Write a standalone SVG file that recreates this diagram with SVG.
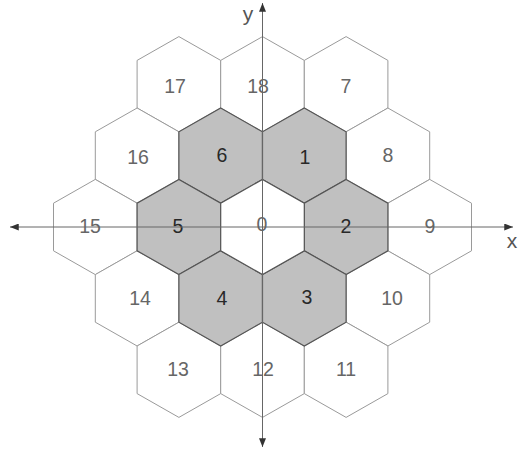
<svg xmlns="http://www.w3.org/2000/svg" width="522" height="451" viewBox="0 0 522 451">
<style>
.outer{fill:#fff;stroke:#9a9a9a;stroke-width:1}
.inner{fill:#c0c0c0;stroke:#555;stroke-width:1.2}
.center{fill:#fff;stroke:#555;stroke-width:1.2}
.lbl{font-family:"Liberation Sans",Arial,sans-serif;font-size:19.5px;text-anchor:middle;fill:#666}
.lbld{font-family:"Liberation Sans",Arial,sans-serif;font-size:19.5px;text-anchor:middle;fill:#282828}
.ax{font-family:"Liberation Sans",Arial,sans-serif;font-size:21px;text-anchor:middle;fill:#555}
.axis{stroke:#666;stroke-width:1;fill:none}
</style>
<defs>
<polygon id="hex" points="0,-47.6 41.8,-23.8 41.8,23.8 0,47.6 -41.8,23.8 -41.8,-23.8"/>
<marker id="arr" viewBox="0 0 10 8" refX="10" refY="4" markerWidth="9" markerHeight="7" markerUnits="userSpaceOnUse" orient="auto">
<path d="M0,0 L10,4 L0,8 Z" fill="#333"/>
</marker>
</defs>
<g id="hex17"><use href="#hex" class="outer" x="178.9" y="84.2"/><text class="lbl" x="175" y="93">17</text></g>
<g id="hex18"><use href="#hex" class="outer" x="262.5" y="84.2"/><text class="lbl" x="258" y="93">18</text></g>
<g id="hex7"><use href="#hex" class="outer" x="346.1" y="84.2"/><text class="lbl" x="346" y="93">7</text></g>
<g id="hex16"><use href="#hex" class="outer" x="137.1" y="155.6"/><text class="lbl" x="138" y="164">16</text></g>
<g id="hex8"><use href="#hex" class="outer" x="387.9" y="155.6"/><text class="lbl" x="388" y="162">8</text></g>
<g id="hex15"><use href="#hex" class="outer" x="95.3" y="227"/><text class="lbl" x="90" y="233">15</text></g>
<g id="hex9"><use href="#hex" class="outer" x="429.7" y="227"/><text class="lbl" x="430" y="233">9</text></g>
<g id="hex14"><use href="#hex" class="outer" x="137.1" y="298.4"/><text class="lbl" x="140" y="305">14</text></g>
<g id="hex10"><use href="#hex" class="outer" x="387.9" y="298.4"/><text class="lbl" x="392" y="305">10</text></g>
<g id="hex13"><use href="#hex" class="outer" x="178.9" y="369.8"/><text class="lbl" x="178" y="376">13</text></g>
<g id="hex12"><use href="#hex" class="outer" x="262.5" y="369.8"/><text class="lbl" x="263" y="376">12</text></g>
<g id="hex11"><use href="#hex" class="outer" x="346.1" y="369.8"/><text class="lbl" x="346" y="376">11</text></g>
<g id="hex6"><use href="#hex" class="inner" x="220.7" y="155.6"/><text class="lbld" x="222" y="162">6</text></g>
<g id="hex1"><use href="#hex" class="inner" x="304.3" y="155.6"/><text class="lbld" x="305" y="164">1</text></g>
<g id="hex5"><use href="#hex" class="inner" x="178.9" y="227"/><text class="lbld" x="178" y="233">5</text></g>
<g id="hex2"><use href="#hex" class="inner" x="346.1" y="227"/><text class="lbld" x="346" y="233">2</text></g>
<g id="hex4"><use href="#hex" class="inner" x="220.7" y="298.4"/><text class="lbld" x="222" y="305">4</text></g>
<g id="hex3"><use href="#hex" class="inner" x="304.3" y="298.4"/><text class="lbld" x="307" y="304">3</text></g>
<g id="hex0"><use href="#hex" class="center" x="262.5" y="227"/><text class="lbl" x="262" y="231">0</text></g>
<g id="connectors">
<line class="axis" x1="262.5" y1="227" x2="513" y2="227" marker-end="url(#arr)"/>
<line class="axis" x1="262.5" y1="227" x2="10" y2="227" marker-end="url(#arr)"/>
<line class="axis" x1="262.5" y1="227" x2="262.5" y2="3" marker-end="url(#arr)"/>
<line class="axis" x1="262.5" y1="227" x2="262.5" y2="447" marker-end="url(#arr)"/>
</g>
<text class="ax" x="512" y="248">x</text>
<text class="ax" x="248" y="21">y</text>
</svg>
